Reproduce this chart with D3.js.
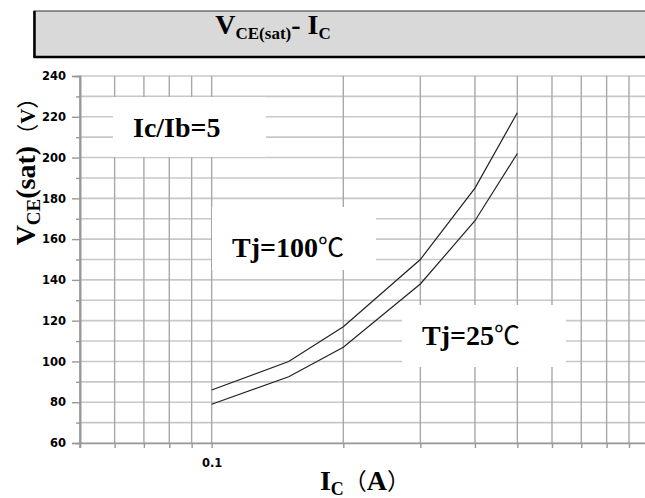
<!DOCTYPE html>
<html>
<head>
<meta charset="utf-8">
<script src="https://cdn.jsdelivr.net/npm/d3@7"></script>
<style>
    body { margin: 0; background: #fff; }
    svg { display: block; }
    .serif { font-family: "Liberation Serif", "Noto Sans CJK SC", serif; font-weight: bold; fill: #000; }
    .cjk { font-family: "Noto Sans CJK SC", sans-serif; font-weight: normal; }
    .tick text { font-family: "DejaVu Sans", sans-serif; font-weight: bold; font-size: 11.5px; fill: #000; }
</style>
</head>
<body>
<svg id="chart" width="645" height="498"></svg>
<script>
// values
let currents = [0.1, 0.15, 0.2, 0.3, 0.4, 0.5];        // Ic (A)
let vce_100 = [86, 100, 117, 150, 185, 222];            // Tj = 100C
let vce_25 = [79, 92.5, 107, 138, 169, 202];            // Tj = 25C
let yMajor = [60, 80, 100, 120, 140, 160, 180, 200, 220, 240];
let yMinor = [70, 90, 110, 130, 150, 170, 190, 210, 230];
let xGrid = [0.06, 0.07, 0.08, 0.09, 0.1, 0.2, 0.3, 0.4, 0.5, 0.6, 0.7, 0.8, 0.9];
let xLabels = ["0.1"];

let svg = d3.select("#chart");

let x = d3.scaleLog().domain([0.05, 1]).range([80, 649]);
let y = d3.scaleLinear().domain([60, 240]).range([443, 76]);

// title box
svg.append("rect")
    .attr("x", 34).attr("y", 11)
    .attr("width", 700).attr("height", 46)
    .attr("fill", "#d9d9d9")
    .attr("stroke", "#333").attr("stroke-width", 1);
svg.append("line").attr("x1", 34.5).attr("x2", 34.5).attr("y1", 11).attr("y2", 58)
    .attr("stroke", "#000").attr("stroke-width", 2.5);
svg.append("line").attr("x1", 34).attr("x2", 700).attr("y1", 57).attr("y2", 57)
    .attr("stroke", "#000").attr("stroke-width", 2.5);

let title = svg.append("text").attr("class", "serif")
    .attr("x", 273).attr("y", 34)
    .attr("text-anchor", "middle")
    .style("font-size", "28px");
title.append("tspan").text("V");
title.append("tspan").text("CE(sat)").style("font-size", "17px").attr("dy", 5);
title.append("tspan").text("- I").attr("dy", -5);
title.append("tspan").text("C").style("font-size", "17px").attr("dy", 5);

// grid
let grid = svg.append("g");
grid.selectAll("line.h")
    .data(yMajor.concat(yMinor))
    .join("line")
    .attr("class", "h")
    .attr("x1", 80).attr("x2", 645)
    .attr("y1", d => y(d)).attr("y2", d => y(d))
    .attr("stroke", "#c8c8c8").attr("stroke-width", 1.6);
grid.selectAll("line.v")
    .data(xGrid)
    .join("line")
    .attr("class", "v")
    .attr("x1", d => x(d)).attr("x2", d => x(d))
    .attr("y1", y(240)).attr("y2", y(60))
    .attr("stroke", "#a8a8a8").attr("stroke-width", 1.4);

// axes
svg.append("g")
    .attr("transform", "translate(80,0)")
    .call(d3.axisLeft(y).tickValues(yMajor).tickSize(8).tickPadding(6));
svg.append("g")
    .attr("transform", "translate(80,0)")
    .call(d3.axisLeft(y).tickValues(yMinor).tickSize(4).tickFormat(""));
svg.append("g")
    .attr("transform", "translate(0,443)")
    .call(d3.axisBottom(x).tickValues(xGrid).tickSize(5).tickPadding(11)
        .tickFormat(d => xLabels.includes(String(d)) ? String(d) : ""));
svg.selectAll(".domain").attr("stroke", "#999").attr("stroke-width", 1.6);
svg.selectAll(".tick line").attr("stroke", "#999").attr("stroke-width", 1.4);
svg.append("line").attr("x1", 80).attr("x2", 80).attr("y1", y(240)).attr("y2", 448)
    .attr("stroke", "#999").attr("stroke-width", 1.6);

// white label boxes
let boxes = [
    { x: 113, y: 97, w: 153, h: 60, text: "Ic/Ib=5", unit: "", tx: 133, ty: 137 },
    { x: 212, y: 207, w: 164, h: 63, text: "Tj=100", unit: "℃", tx: 232, ty: 257 },
    { x: 402, y: 305, w: 164, h: 62, text: "Tj=25", unit: "℃", tx: 422, ty: 345 }
];
svg.selectAll("rect.lbl")
    .data(boxes)
    .join("rect")
    .attr("class", "lbl")
    .attr("x", d => d.x).attr("y", d => d.y)
    .attr("width", d => d.w).attr("height", d => d.h)
    .attr("fill", "#fff");
let lbl = svg.selectAll("text.lbl")
    .data(boxes)
    .join("text")
    .attr("class", "lbl serif")
    .attr("x", d => d.tx).attr("y", d => d.ty)
    .style("font-size", "28px");
lbl.append("tspan").text(d => d.text);
lbl.append("tspan").attr("class", "cjk").style("font-size", "26px").text(d => d.unit);

// curves
let curve = d3.line().x((d, i) => x(currents[i])).y(d => y(d));
svg.append("path").datum(vce_100)
    .attr("d", curve)
    .attr("fill", "none").attr("stroke", "#222").attr("stroke-width", 1.2);
svg.append("path").datum(vce_25)
    .attr("d", curve)
    .attr("fill", "none").attr("stroke", "#222").attr("stroke-width", 1.2);

// axis titles
let yt = svg.append("text").attr("class", "serif")
    .attr("transform", "translate(35,166) rotate(-90)")
    .attr("text-anchor", "middle")
    .style("font-size", "28px");
yt.append("tspan").text("V");
yt.append("tspan").text("CE").style("font-size", "19px").attr("dy", 5);
yt.append("tspan").text("(sat)").attr("dy", -5);
yt.append("tspan").attr("class", "cjk").style("font-size", "22px").text("（");
yt.append("tspan").style("font-size", "21px").text("V");
yt.append("tspan").attr("class", "cjk").style("font-size", "22px").text("）");

let xt = svg.append("text").attr("class", "serif")
    .attr("x", 365).attr("y", 490)
    .attr("text-anchor", "middle")
    .style("font-size", "28px");
xt.append("tspan").text("I");
xt.append("tspan").text("C").style("font-size", "18px").attr("dy", 5);
xt.append("tspan").attr("class", "cjk").style("font-size", "23px").attr("dy", -5).text("（");
xt.append("tspan").text("A");
xt.append("tspan").attr("class", "cjk").style("font-size", "23px").text("）");
</script>
</body>
</html>
